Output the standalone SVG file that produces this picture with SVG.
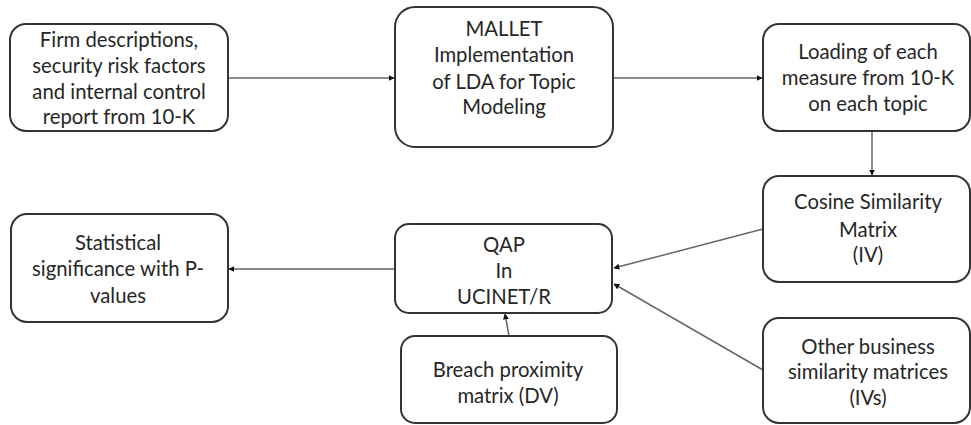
<svg xmlns="http://www.w3.org/2000/svg" width="971" height="425" viewBox="0 0 971 425">
<style>
.box{fill:#fff;stroke:#333;stroke-width:2}
.t{font-family:Lato,"Open Sans","Liberation Sans",sans-serif;font-size:20.3px;fill:#262626;text-anchor:middle}
.c{stroke:#666;stroke-width:1.5;fill:none;marker-end:url(#ah)}
</style>
<defs>
<marker id="ah" viewBox="0 0 10 10" refX="9" refY="5" markerWidth="6" markerHeight="6" markerUnits="userSpaceOnUse" orient="auto">
<path d="M0,0 L10,5 L0,10 z" fill="#111"/>
</marker>
</defs>
<rect width="971" height="425" fill="#fff"/>
<g id="connectors">
<line class="c" x1="229" y1="78" x2="394" y2="78"/>
<line class="c" x1="614" y1="78" x2="762" y2="78"/>
<line class="c" x1="872" y1="132" x2="872" y2="175"/>
<line class="c" x1="763" y1="229" x2="614" y2="268"/>
<line class="c" x1="763" y1="370" x2="614" y2="284"/>
<line class="c" x1="509" y1="336" x2="505" y2="314"/>
<line class="c" x1="395" y1="269" x2="229" y2="269"/>
</g>
<g id="n1">
<rect class="box" x="10" y="24" width="218" height="107" rx="16"/>
<text class="t" x="119" y="47">Firm descriptions,</text>
<text class="t" x="119" y="73">security risk factors</text>
<text class="t" x="119" y="99">and internal control</text>
<text class="t" x="119" y="124">report from 10-K</text>
</g>
<g id="n2">
<rect class="box" x="395" y="7" width="218" height="140" rx="20"/>
<text class="t" x="504" y="36">MALLET</text>
<text class="t" x="504" y="62">Implementation</text>
<text class="t" x="504" y="89">of LDA for Topic</text>
<text class="t" x="504" y="114">Modeling</text>
</g>
<g id="n3">
<rect class="box" x="763" y="24" width="207" height="107" rx="16"/>
<text class="t" x="868" y="59">Loading of each</text>
<text class="t" x="868" y="85">measure from 10-K</text>
<text class="t" x="868" y="111">on each topic</text>
</g>
<g id="n4">
<rect class="box" x="763" y="176" width="207" height="106" rx="16"/>
<text class="t" x="868" y="209">Cosine Similarity</text>
<text class="t" x="868" y="237">Matrix</text>
<text class="t" x="868" y="262">(IV)</text>
</g>
<g id="n5">
<rect class="box" x="763" y="318" width="207" height="105" rx="16"/>
<text class="t" x="868" y="354">Other business</text>
<text class="t" x="868" y="379">similarity matrices</text>
<text class="t" x="868" y="405">(IVs)</text>
</g>
<g id="n6">
<rect class="box" x="395" y="224" width="217" height="89" rx="14"/>
<text class="t" x="504" y="252">QAP</text>
<text class="t" x="504" y="278">In</text>
<text class="t" x="504" y="304">UCINET/R</text>
</g>
<g id="n7">
<rect class="box" x="401" y="336" width="216" height="87" rx="14"/>
<text class="t" x="508" y="377">Breach proximity</text>
<text class="t" x="508" y="403">matrix (DV)</text>
</g>
<g id="n8">
<rect class="box" x="11" y="214" width="217" height="108" rx="16"/>
<text class="t" x="118" y="250">Statistical</text>
<text class="t" x="118" y="276">significance with P-</text>
<text class="t" x="118" y="303">values</text>
</g>
</svg>
